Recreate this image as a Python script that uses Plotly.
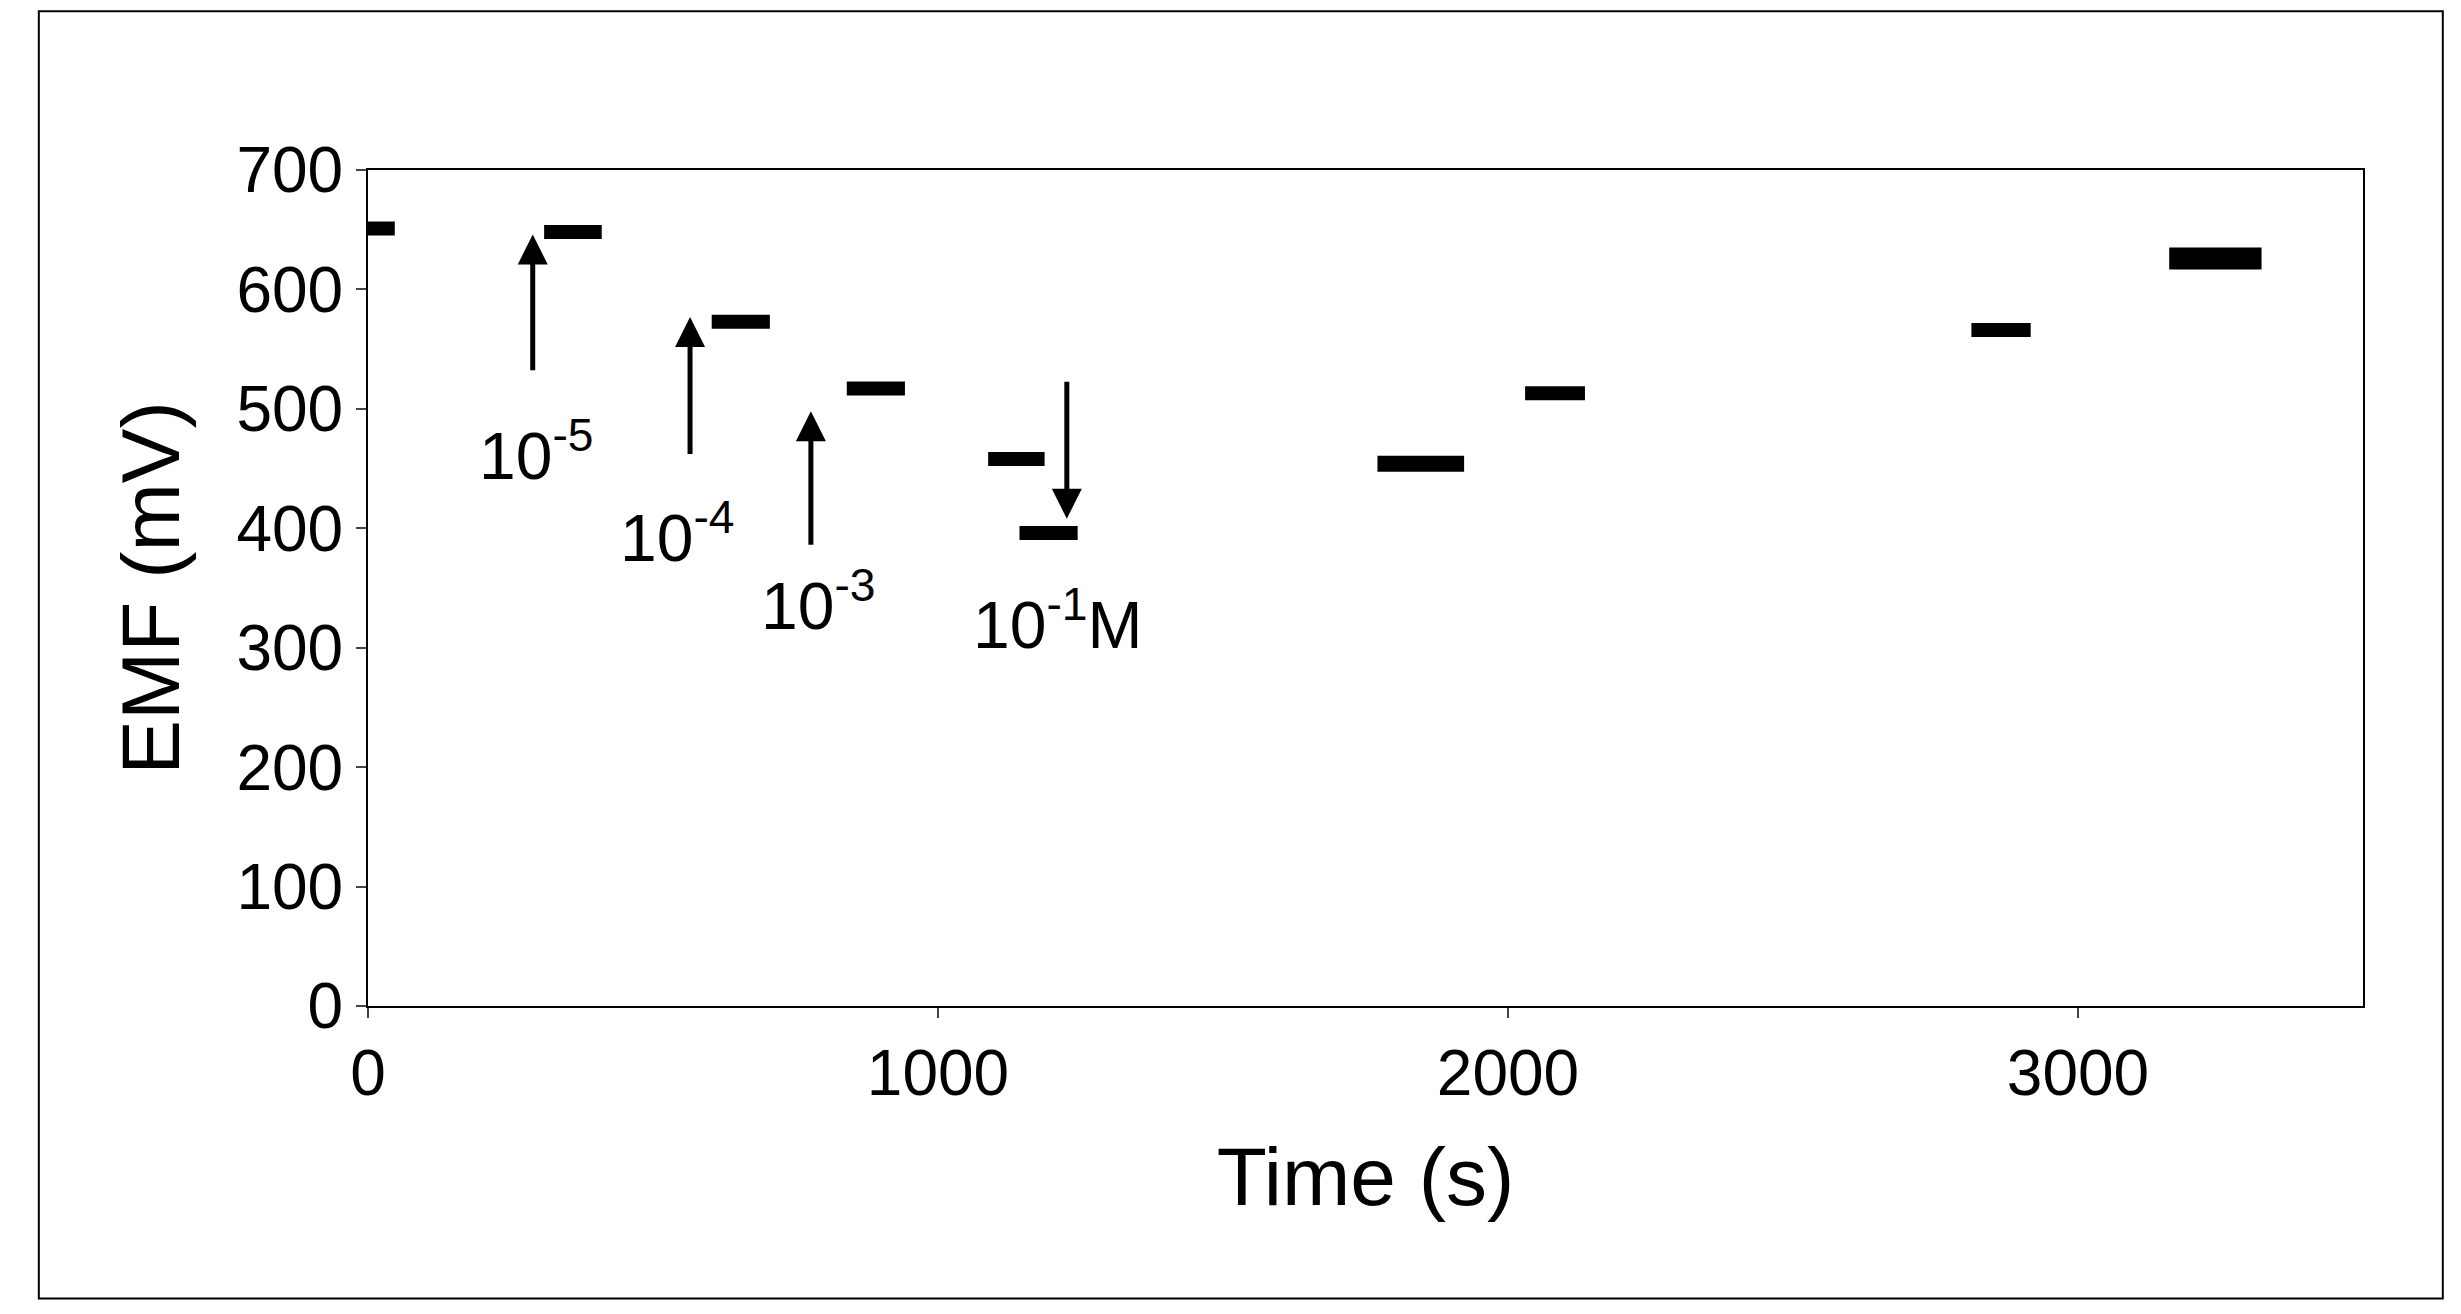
import plotly.graph_objects as go

seg_start = [-50, 309, 603, 840, 1088, 1143, 1771, 2030, 2813, 3160]
seg_end = [47, 410, 705, 942, 1187, 1245, 1923, 2135, 2917, 3322]
seg_emf = [651, 648, 573, 517, 458, 396, 454, 513, 566, 626]
seg_width = [14, 14, 14, 14, 14, 14, 16, 14, 14, 22]

arrow_x = [289, 565, 777, 1226]
arrow_from = [531, 461, 385, 524]
arrow_to = [646, 577, 498, 408]
label_text = ["10<sup>-5</sup>", "10<sup>-4</sup>", "10<sup>-3</sup>", "10<sup>-1</sup>M"]
label_x = [295, 543, 791, 1209]
label_y = [465, 396, 339, 323]

fig = go.Figure()
for s, e, v, w in zip(seg_start, seg_end, seg_emf, seg_width):
    fig.add_trace(go.Scatter(x=[s, e], y=[v, v], mode="lines", cliponaxis=False,
                             line=dict(color="black", width=w), showlegend=False))

for x, a, b in zip(arrow_x, arrow_from, arrow_to):
    fig.add_annotation(x=x, y=b, ax=x, ay=a, xref="x", yref="y", axref="x", ayref="y",
                       showarrow=True, arrowhead=2, arrowsize=1.2, arrowwidth=5,
                       arrowcolor="black", text="")
for t, x, y in zip(label_text, label_x, label_y):
    fig.add_annotation(x=x, y=y, text=t, showarrow=False, xref="x", yref="y",
                       font=dict(size=66, color="black"))

fig.add_shape(type="rect", xref="paper", yref="paper", x0=-0.165, x1=1.04, y0=-0.35, y1=1.19,
              line=dict(color="black", width=2))

fig.update_layout(
    width=2461, height=1314, paper_bgcolor="white", plot_bgcolor="white",
    margin=dict(l=360, r=106, t=162, b=316),
    font=dict(family="Liberation Sans, Arial", color="black"),
    xaxis=dict(range=[0, 3500], tickvals=[0, 1000, 2000, 3000], showline=True, mirror=True,
               linecolor="black", linewidth=2, ticks="outside", ticklen=10, tickwidth=2,
               showgrid=False, zeroline=False, tickfont=dict(size=64),
               title=dict(text="Time (s)", font=dict(size=82), standoff=40)),
    yaxis=dict(range=[0, 700], dtick=100, showline=True, mirror=True,
               linecolor="black", linewidth=2, ticks="outside", ticklen=10, tickwidth=2,
               showgrid=False, zeroline=False, tickfont=dict(size=64),
               title=dict(text="EMF (mV)", font=dict(size=82), standoff=30)),
)
fig.write_html("out.html")
